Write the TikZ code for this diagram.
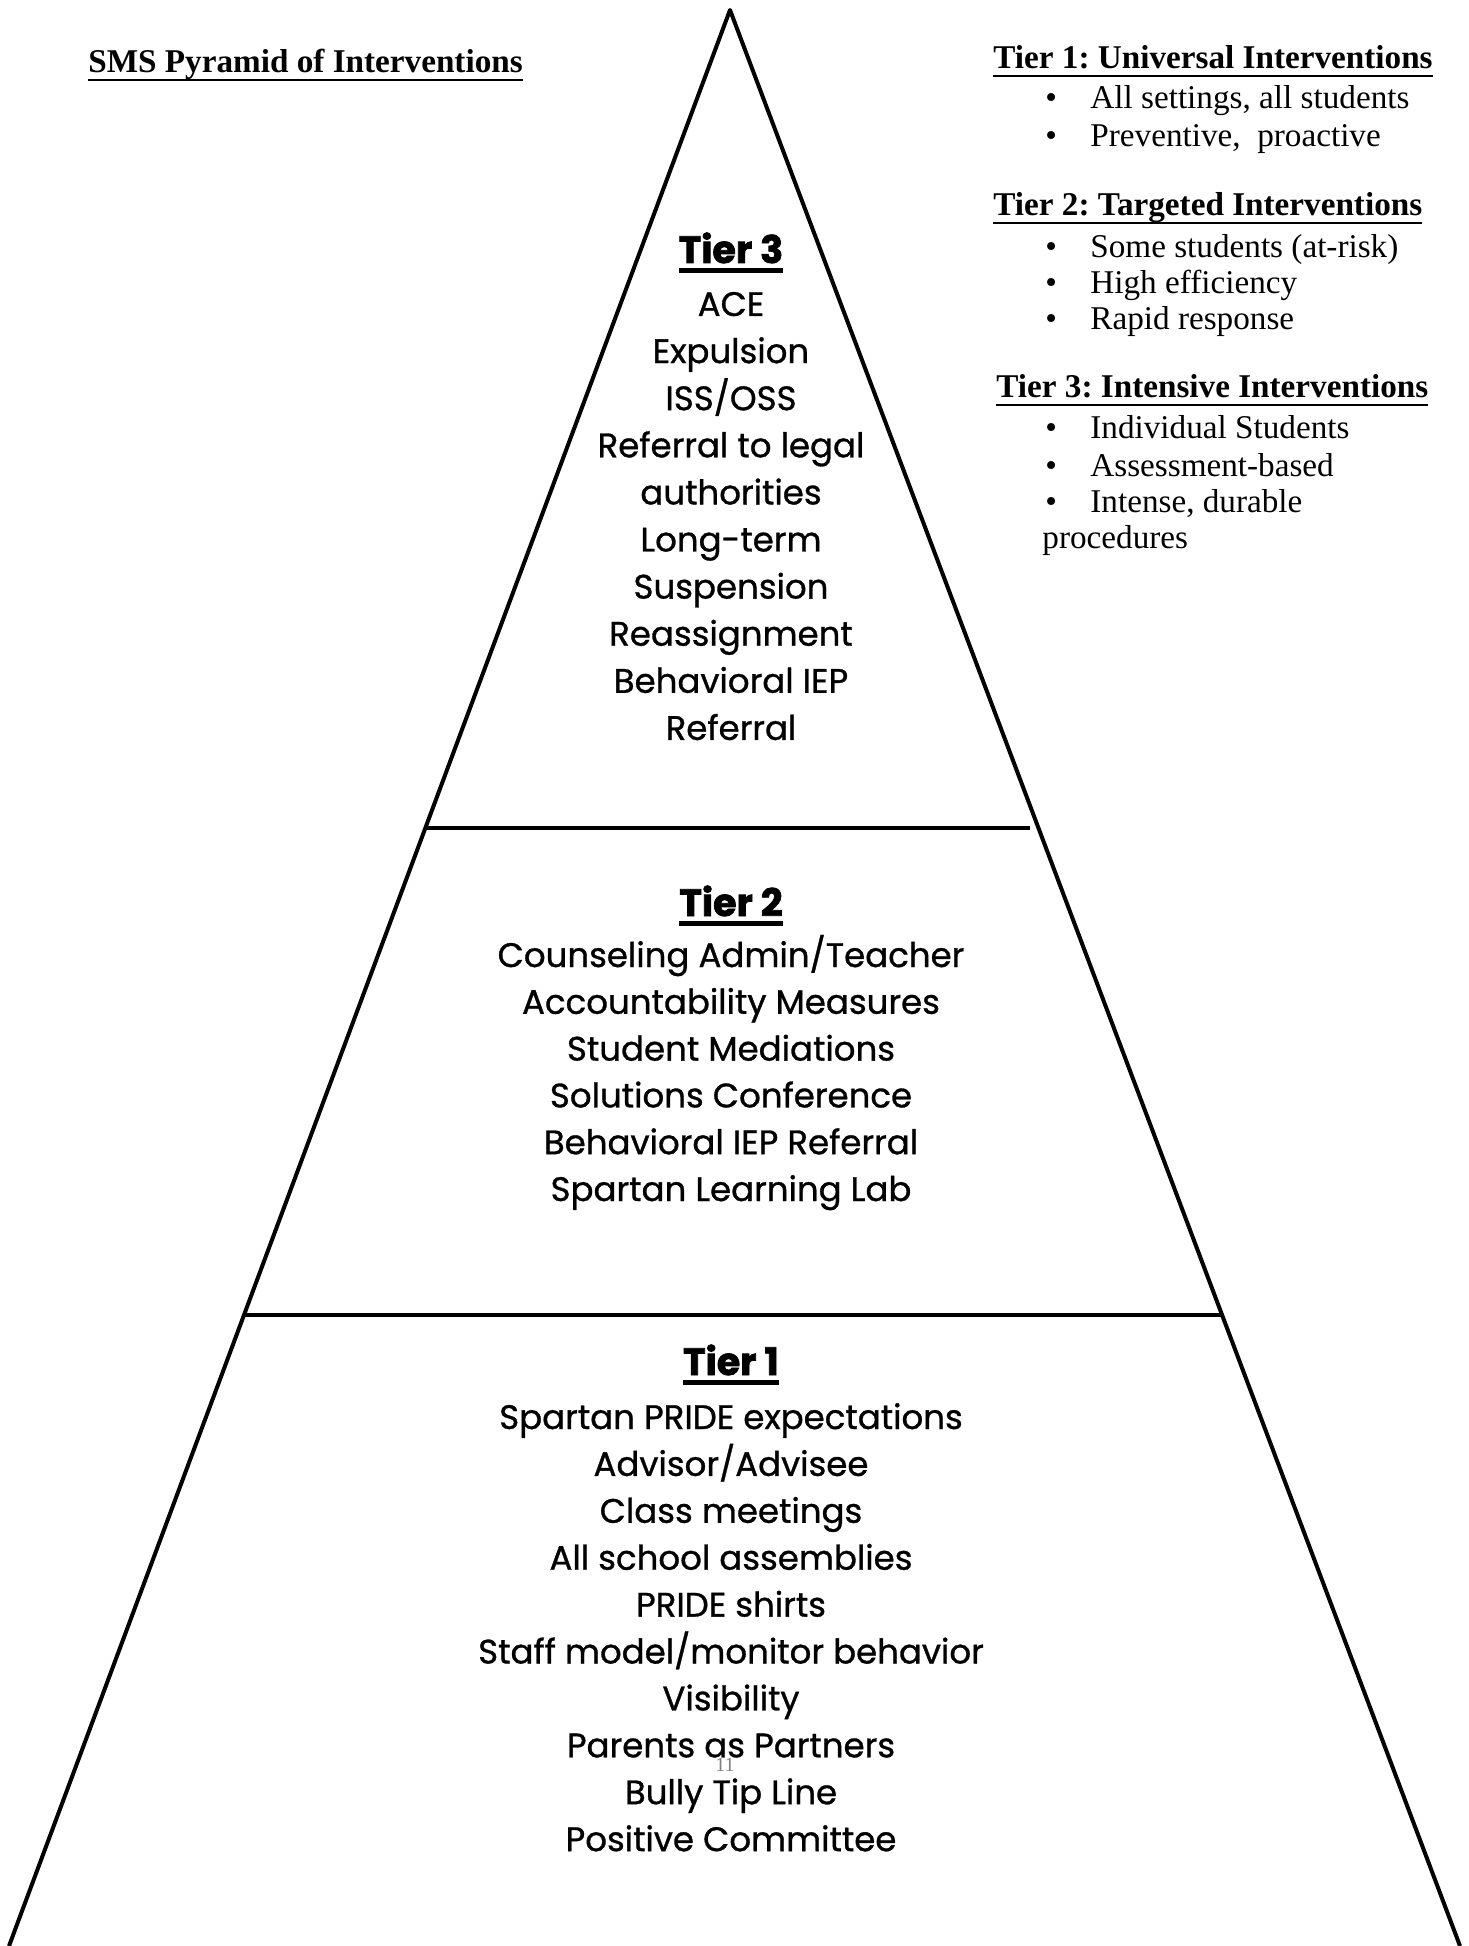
\documentclass[tikz,border=0pt]{standalone}
\usepackage{fontspec}
\setmainfont{Liberation Serif}
\newfontfamily\pyrfont[FakeBold=0.9]{Poppins}
\newfontfamily\pyrhead[FakeBold=2]{Poppins}
\frenchspacing

\newsavebox{\ulbox}
\newcommand{\barunder}[3]{\sbox{\ulbox}{#3}\rlap{\rule[-#1]{\wd\ulbox}{#2}}\usebox{\ulbox}}
\newcommand{\tierul}[1]{\barunder{4.8pt}{2.2pt}{#1}}
\newcommand{\sideul}[1]{\barunder{4pt}{1pt}{#1}}
\newcommand{\bitem}[1]{\makebox[24pt][l]{\hspace{1.5pt}\textbullet}#1}

\tikzset{
	pyrline/.style={line width=2pt, line join=round},
	tiertitle/.style={anchor=base, inner sep=0pt, font=\pyrhead\fontsize{19}{22}\selectfont\bfseries},
	tieritem/.style={anchor=base, inner sep=0pt, font=\pyrfont\fontsize{17}{20}\selectfont},
	sidehead/.style={anchor=base west, inner sep=0pt, font=\fontsize{16.6}{18}\selectfont\bfseries},
	sideitem/.style={anchor=base west, inner sep=0pt, font=\fontsize{16.6}{18}\selectfont},
}

\begin{document}
\begin{tikzpicture}[x=0.5pt, y=-0.5pt]
	\useasboundingbox (0,0) rectangle (1468,1946);
	% pyramid outline
	\coordinate (apex) at (730,10);
	\coordinate (bl) at (9,1946);
	\coordinate (br) at (1460,1946);
	\draw[pyrline] (bl) -- (apex) -- (br);
	% tier dividers
	\coordinate (d1l) at (426,828);
	\coordinate (d1r) at (1030,828);
	\coordinate (d2l) at (244,1315);
	\coordinate (d2r) at (1223,1315);
	\draw[pyrline] (d1l) -- (d1r);
	\draw[pyrline] (d2l) -- (d2r);

	% title
	\node[sidehead] (title) at (88,73) {\sideul{SMS Pyramid of Interventions}};

	% tier 3
	\node[tiertitle] (t3) at (731,263) {\tierul{Tier 3}};
	\foreach \txt [count=\i from 0] in {ACE, Expulsion, ISS/OSS, Referral to legal, authorities, Long-term, Suspension, Reassignment, Behavioral IEP, Referral}
		\node[tieritem] (t3-\i) at (731,316+47.1*\i) {\txt};

	% tier 2
	\node[tiertitle] (t2) at (731,916) {\tierul{Tier 2}};
	\foreach \txt [count=\i from 0] in {Counseling Admin/Teacher, Accountability Measures, Student Mediations, Solutions Conference, Behavioral IEP Referral, Spartan Learning Lab}
		\node[tieritem] (t2-\i) at (731,967+46.8*\i) {\txt};

	% tier 1
	\node[tiertitle] (t1) at (731,1375) {\tierul{Tier 1}};
	\foreach \txt [count=\i from 0] in {Spartan PRIDE expectations, Advisor/Advisee, Class meetings, All school assemblies, PRIDE shirts, Staff model/monitor behavior, Visibility, Parents as Partners, Bully Tip Line, Positive Committee}
		\node[tieritem] (t1-\i) at (731,1429+46.9*\i) {\txt};

	% page number
	\node[font=\fontsize{10}{11}\selectfont, text=gray] (pagenum) at (725,1765) {11};

	% side notes
	\node[sidehead] (h1) at (993,69) {\sideul{Tier 1: Universal Interventions}};
	\node[sideitem] (h1-a) at (1042,109) {\bitem{All settings, all students}};
	\node[sideitem] (h1-b) at (1042,147) {\bitem{Preventive,\ \ proactive}};

	\node[sidehead] (h2) at (993,216) {\sideul{Tier 2: Targeted Interventions}};
	\node[sideitem] (h2-a) at (1042,258) {\bitem{Some students (at-risk)}};
	\node[sideitem] (h2-b) at (1042,294) {\bitem{High efficiency}};
	\node[sideitem] (h2-c) at (1042,330) {\bitem{Rapid response}};

	\node[sidehead] (h3) at (996,398) {\sideul{Tier 3: Intensive Interventions}};
	\node[sideitem] (h3-a) at (1042,439) {\bitem{Individual Students}};
	\node[sideitem] (h3-b) at (1042,477) {\bitem{Assessment-based}};
	\node[sideitem] (h3-c) at (1042,513) {\bitem{Intense, durable}};
	\node[sideitem] (h3-d) at (1042,549) {procedures};
\end{tikzpicture}
\end{document}
